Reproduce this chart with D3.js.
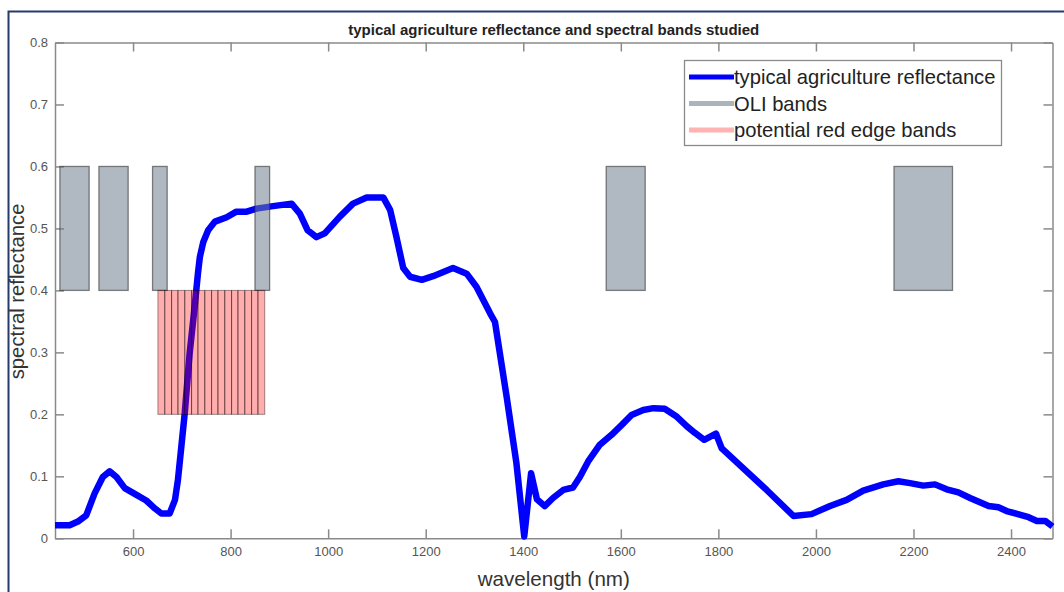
<!DOCTYPE html>
<html>
<head>
<meta charset="utf-8">
<script src="https://cdn.jsdelivr.net/npm/d3@7"></script>
<style>
  body { margin: 0; background: #fff; }
  svg { display: block; font-family: "Liberation Sans", Arial, sans-serif; }
</style>
</head>
<body>
<svg id="canvas" width="1064" height="592"></svg>
<script>
// reflectance curve
let wavelengths = [440, 470, 487, 504, 521, 538, 552, 566, 583, 607, 627, 645, 658, 675, 686, 692, 699, 706, 716, 727,
    733, 737, 744, 754, 768, 792, 812, 833, 853, 887, 925, 942, 958, 976, 993, 1024, 1051, 1079, 1113, 1127,
    1140, 1154, 1168, 1192, 1215, 1256, 1284, 1304, 1332, 1342, 1366, 1386, 1402, 1416, 1428, 1444, 1461, 1482, 1502, 1516,
    1533, 1557, 1581, 1602, 1622, 1646, 1667, 1690, 1715, 1735, 1752, 1771, 1795, 1807, 1844, 1899, 1954, 1991, 2029, 2063,
    2097, 2138, 2169, 2193, 2220, 2244, 2268, 2292, 2316, 2354, 2374, 2391, 2436, 2453, 2470, 2485];
let reflectance = [0.021, 0.021, 0.027, 0.037, 0.072, 0.099, 0.108, 0.099, 0.081, 0.070, 0.061, 0.048, 0.040, 0.040, 0.062, 0.094, 0.148, 0.202, 0.298, 0.379,
    0.427, 0.454, 0.478, 0.497, 0.511, 0.518, 0.527, 0.527, 0.532, 0.536, 0.540, 0.524, 0.497, 0.486, 0.492, 0.519, 0.540, 0.550, 0.550, 0.530,
    0.486, 0.436, 0.422, 0.417, 0.423, 0.436, 0.427, 0.406, 0.363, 0.349, 0.228, 0.121, 0.003, 0.105, 0.063, 0.052, 0.065, 0.078, 0.082, 0.099,
    0.124, 0.151, 0.167, 0.183, 0.199, 0.207, 0.210, 0.209, 0.196, 0.181, 0.170, 0.159, 0.169, 0.145, 0.118, 0.078, 0.036, 0.039, 0.052, 0.062,
    0.077, 0.087, 0.092, 0.089, 0.085, 0.087, 0.079, 0.074, 0.065, 0.052, 0.050, 0.044, 0.034, 0.028, 0.028, 0.019];

// OLI bands (nm), drawn from 0.4 to 0.6
let oliStart = [450, 530, 640, 850, 1570, 2160];
let oliEnd = [510, 590, 670, 880, 1650, 2280];
let oliLow = 0.4;
let oliHigh = 0.6;

// potential red edge bands (nm), drawn from 0.2 to 0.4
let redStart = [651, 665, 679, 692, 706, 720, 733, 747, 761, 774, 788, 802, 815, 829, 843, 856];
let redEnd = [665, 679, 692, 706, 720, 733, 747, 761, 774, 788, 802, 815, 829, 843, 856, 870];
let redLow = 0.2;
let redHigh = 0.4;

let xTicks = [600, 800, 1000, 1200, 1400, 1600, 1800, 2000, 2200, 2400];
let yTicks = [0, 0.1, 0.2, 0.3, 0.4, 0.5, 0.6, 0.7, 0.8];
let legendLabels = ['typical agriculture reflectance', 'OLI bands', 'potential red edge bands'];
let legendColors = ['#0000ff', '#aab4bd', '#ffb3b3'];

let canvas = d3.select('#canvas');

let plotLeft = 55, plotRight = 1052.5, plotTop = 42.5, plotBottom = 538.3;

let xScale = d3.scaleLinear().domain([440, 2485]).range([plotLeft, plotRight]);
let yScale = d3.scaleLinear().domain([0, 0.8]).range([plotBottom, plotTop]);

// outer frame of the screenshot
canvas.append('rect')
    .attr('x', 8.5).attr('y', 11.5)
    .attr('width', 1100).attr('height', 700)
    .attr('fill', 'none')
    .attr('stroke', '#263a6b')
    .attr('stroke-width', 2);

// title
canvas.append('text')
    .attr('x', (plotLeft + plotRight) / 2)
    .attr('y', 35)
    .attr('text-anchor', 'middle')
    .attr('font-size', 15)
    .attr('font-weight', 'bold')
    .attr('fill', '#222')
    .text('typical agriculture reflectance and spectral bands studied');

// axes (box with ticks on all four sides, ticks inward)
let axisColor = '#8a8a8a';
let xAxisB = d3.axisBottom(xScale).tickValues(xTicks).tickSizeInner(-9).tickSizeOuter(0).tickPadding(8)
    .tickFormat(d3.format('d'));
let xAxisT = d3.axisTop(xScale).tickValues(xTicks).tickSizeInner(-9).tickSizeOuter(0).tickFormat('');
let yAxisL = d3.axisLeft(yScale).tickValues(yTicks).tickSizeInner(-9).tickSizeOuter(0).tickPadding(7)
    .tickFormat((d) => d === 0 ? '0' : d3.format('.1f')(d));
let yAxisR = d3.axisRight(yScale).tickValues(yTicks).tickSizeInner(-9).tickSizeOuter(0).tickFormat('');

let styleAxis = (g) => {
    g.selectAll('path').attr('stroke', axisColor).attr('stroke-width', 1.5);
    g.selectAll('line').attr('stroke', axisColor).attr('stroke-width', 1.5);
    g.selectAll('text').attr('fill', '#555').attr('font-size', 13).attr('font-family', '"Liberation Sans", Arial, sans-serif');
};

canvas.append('g').attr('transform', 'translate(0,' + plotBottom + ')').call(xAxisB).call(styleAxis);
canvas.append('g').attr('transform', 'translate(0,' + plotTop + ')').call(xAxisT).call(styleAxis);
canvas.append('g').attr('transform', 'translate(' + plotLeft + ',0)').call(yAxisL).call(styleAxis);
canvas.append('g').attr('transform', 'translate(' + plotRight + ',0)').call(yAxisR).call(styleAxis);

// axis labels
canvas.append('text')
    .attr('x', (plotLeft + plotRight) / 2)
    .attr('y', 586)
    .attr('text-anchor', 'middle')
    .attr('font-size', 20.6)
    .attr('fill', '#333')
    .text('wavelength (nm)');

canvas.append('text')
    .attr('transform', 'translate(24,' + ((plotTop + plotBottom) / 2 + 1) + ') rotate(-90)')
    .attr('text-anchor', 'middle')
    .attr('font-size', 20.3)
    .attr('fill', '#333')
    .text('spectral reflectance');

// curve
let points = wavelengths.map((w, i) => [w, reflectance[i]]);
let line = d3.line()
    .x((d) => xScale(d[0]))
    .y((d) => yScale(d[1]));

canvas.append('path')
    .datum(points)
    .attr('d', line)
    .attr('fill', 'none')
    .attr('stroke', '#0000ff')
    .attr('stroke-width', 6.5)
    .attr('stroke-linejoin', 'round');

// OLI bands
let oliBands = oliStart.map((s, i) => ({ start: s, end: oliEnd[i] }));
canvas.selectAll('rect.oli')
    .data(oliBands)
    .enter()
    .append('rect')
    .attr('class', 'oli')
    .attr('x', (d) => xScale(d.start))
    .attr('y', yScale(oliHigh))
    .attr('width', (d) => xScale(d.end) - xScale(d.start))
    .attr('height', yScale(oliLow) - yScale(oliHigh))
    .attr('fill', 'rgb(112,128,144)')
    .attr('fill-opacity', 0.55)
    .attr('stroke', '#333')
    .attr('stroke-opacity', 0.6)
    .attr('stroke-width', 1.3);

// red edge bands
let redBands = redStart.map((s, i) => ({ start: s, end: redEnd[i] }));
canvas.selectAll('rect.red')
    .data(redBands)
    .enter()
    .append('rect')
    .attr('class', 'red')
    .attr('x', (d) => xScale(d.start))
    .attr('y', yScale(redHigh))
    .attr('width', (d) => xScale(d.end) - xScale(d.start))
    .attr('height', yScale(redLow) - yScale(redHigh))
    .attr('fill', '#ff0000')
    .attr('fill-opacity', 0.32)
    .attr('stroke', '#000')
    .attr('stroke-opacity', 0.4)
    .attr('stroke-width', 1);

// legend
let legend = canvas.append('g').attr('transform', 'translate(684,60)');
legend.append('rect')
    .attr('x', 0.5).attr('y', 0.5)
    .attr('width', 317).attr('height', 85)
    .attr('fill', '#fff')
    .attr('stroke', '#8a8a8a')
    .attr('stroke-width', 1.3);

let rows = legend.selectAll('g.row')
    .data(legendLabels)
    .enter()
    .append('g')
    .attr('class', 'row')
    .attr('transform', (d, i) => 'translate(0,' + (17 + i * 26.5) + ')');

rows.append('line')
    .attr('x1', 5).attr('x2', 50)
    .attr('y1', 0).attr('y2', 0)
    .attr('stroke', (d, i) => legendColors[i])
    .attr('stroke-width', 5);

rows.append('text')
    .attr('x', 50)
    .attr('y', 7)
    .attr('font-size', 20.2)
    .attr('fill', '#222')
    .text((d) => d);
</script>
</body>
</html>
